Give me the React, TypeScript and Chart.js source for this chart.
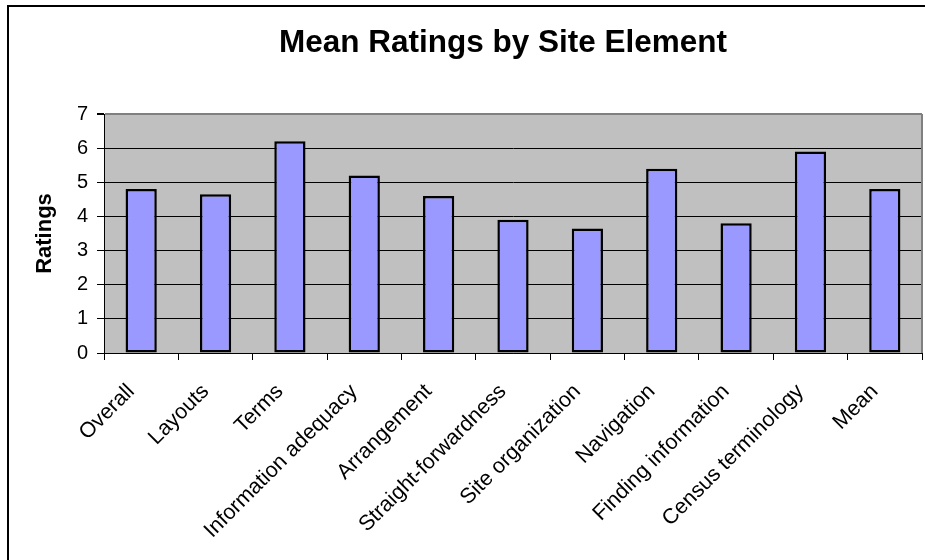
import React, { useEffect, useRef } from "react";
import { Chart, registerables } from "chart.js";

Chart.register(...registerables);

const categories: string[] = [
  "Overall",
  "Layouts",
  "Terms",
  "Information adequacy",
  "Arrangement",
  "Straight-forwardness",
  "Site organization",
  "Navigation",
  "Finding information",
  "Census terminology",
  "Mean",
];

const ratings: number[] = [4.8, 4.65, 6.2, 5.2, 4.6, 3.9, 3.65, 5.4, 3.8, 5.9, 4.8];

const chartTitle = "Mean Ratings by Site Element";
const yAxisTitle = "Ratings";
const yMin = 0;
const yMax = 7;
const yStep = 1;

const FONT = 'Arial, "Liberation Sans", sans-serif';

const plotBg = {
  id: "plotBg",
  beforeDraw(chart: any) {
    const { ctx, chartArea } = chart;
    if (!chartArea) return;
    ctx.save();
    ctx.fillStyle = "#C0C0C0";
    ctx.fillRect(chartArea.left, chartArea.top, chartArea.right - chartArea.left, chartArea.bottom - chartArea.top);
    ctx.restore();
  },
  beforeDatasetsDraw(chart: any) {
    const { ctx, chartArea } = chart;
    ctx.save();
    ctx.strokeStyle = "#808080";
    ctx.lineWidth = 2;
    ctx.beginPath();
    ctx.moveTo(chartArea.right, chartArea.top);
    ctx.lineTo(chartArea.right, chartArea.bottom);
    ctx.stroke();
    ctx.restore();
  },
};

export default function App() {
  const ref = useRef<HTMLCanvasElement | null>(null);

  useEffect(() => {
    if (!ref.current) return;
    const chart = new Chart(ref.current, {
      type: "bar",
      data: {
        labels: categories,
        datasets: [
          {
            data: ratings,
            backgroundColor: "#9999FF",
            borderColor: "#000000",
            borderWidth: 2.5,
            borderSkipped: false,
            barPercentage: 0.42,
            categoryPercentage: 1,
          },
        ],
      },
      options: {
        animation: false,
        responsive: false,
        maintainAspectRatio: false,
        devicePixelRatio: 1,
        layout: { padding: 0 },
        plugins: {
          legend: { display: false },
          tooltip: { enabled: false },
          title: {
            display: true,
            text: chartTitle,
            color: "#000",
            font: { family: FONT, size: 31.5, weight: "bold", lineHeight: 1.2 },
            padding: { top: 24.5, bottom: 51.7 },
          },
        },
        scales: {
          x: {
            grid: {
              display: true,
              offset: true,
              drawOnChartArea: false,
              drawTicks: true,
              tickLength: 7,
              tickColor: "#000",
            },
            border: { display: true, color: "#000", width: 1 },
            ticks: {
              color: "#000",
              font: { family: FONT, size: 21.5 },
              minRotation: 45,
              maxRotation: 45,
              autoSkip: false,
              padding: 19,
              labelOffset: -10,
            },
            afterFit(scale: any) {
              scale.height = 207;
            },
          },
          y: {
            min: yMin,
            max: yMax,
            ticks: {
              stepSize: yStep,
              color: "#000",
              font: { family: FONT, size: 20 },
              padding: 9,
            },
            grid: {
              color: (ctx: any) => (ctx.tick && ctx.tick.value === yMax ? "#808080" : "#000"),
              lineWidth: (ctx: any) => (ctx.tick && ctx.tick.value === yMax ? 2 : 1),
              tickLength: 7,
              tickColor: "#000",
            },
            border: { display: true, color: "#000", width: 1 },
            title: {
              display: true,
              text: yAxisTitle,
              color: "#000",
              font: { family: FONT, size: 22, weight: "bold", lineHeight: 1.2 },
              padding: { top: 32, bottom: 0 },
            },
            afterFit(scale: any) {
              scale.width = 104;
            },
          },
          spacer: {
            type: "linear",
            position: "right",
            display: true,
            grid: { display: false, drawTicks: false },
            border: { display: false },
            ticks: { display: false },
            afterFit(scale: any) {
              scale.width = 84;
            },
          },
        },
      },
      plugins: [plotBg],
    });
    return () => chart.destroy();
  }, []);

  return (
    <div
      style={{
        position: "fixed",
        left: 0,
        top: 0,
        width: 925,
        height: 560,
        overflow: "hidden",
        background: "#fff",
      }}
    >
      <div
        style={{
          position: "absolute",
          left: 7,
          top: 5,
          width: 2000,
          height: 2000,
          borderLeft: "2px solid #000",
          borderTop: "2px solid #000",
        }}
      />
      <canvas
        ref={ref}
        width={1006}
        height={560}
        style={{ position: "absolute", left: 0, top: 0, width: 1006, height: 560 }}
      />
    </div>
  );
}
